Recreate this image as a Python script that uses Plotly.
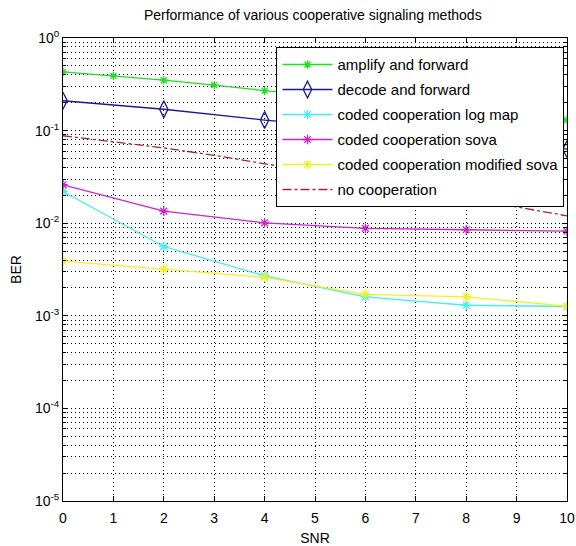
import plotly.graph_objects as go

snr_full = [0, 1, 2, 3, 4, 5, 6, 7, 8, 9, 10]
snr_even = [0, 2, 4, 6, 8, 10]

amplify_forward = [0.43, 0.39, 0.35, 0.31, 0.27, 0.24, 0.21, 0.185, 0.165, 0.145, 0.13]
decode_forward = [0.21, 0.17, 0.13, 0.105, 0.082, 0.063]
log_map = [0.022, 0.0056, 0.0027, 0.0016, 0.0013, 0.00126]
sova = [0.026, 0.0135, 0.0101, 0.0088, 0.0085, 0.0082]
modified_sova = [0.0039, 0.0032, 0.0026, 0.0017, 0.0016, 0.00127]
no_coop = [0.088, 0.076, 0.065, 0.054, 0.044, 0.036, 0.029, 0.023, 0.019, 0.015, 0.012]

y_exponents = [-5, -4, -3, -2, -1, 0]
y_tickvals = [10.0 ** e for e in y_exponents]
y_ticktext = ["10<sup>%d</sup>" % e for e in y_exponents]
y_minor_vals = [m * 10.0 ** e for e in y_exponents[:-1] for m in range(2, 10)]

series = [
    ("amplify and forward", snr_full, amplify_forward, "#22dd22", "solid", "asterisk-open", 7),
    ("decode and forward", snr_even, decode_forward, "#1a1a90", "solid", "diamond-tall-open", 12),
    ("coded cooperation log map", snr_even, log_map, "#44eeee", "solid", "asterisk-open", 8),
    ("coded cooperation sova", snr_even, sova, "#cc22cc", "solid", "asterisk-open", 8),
    ("coded cooperation modified sova", snr_even, modified_sova, "#f2f222", "solid", "asterisk-open", 8),
    ("no cooperation", snr_full, no_coop, "#a02828", "dashdot", None, 0),
]

fig = go.Figure()
for i, (name, xs, ys, color, dash, sym, size) in enumerate(series):
    if sym:
        fig.add_trace(go.Scatter(x=xs, y=ys, name=name, mode="lines+markers",
                                 legendgroup="g%d" % i,
                                 line=dict(color=color, width=1.3, dash=dash),
                                 marker=dict(symbol=sym, size=size, color=color,
                                             line=dict(color=color, width=1.3))))
    else:
        fig.add_trace(go.Scatter(x=xs, y=ys, name=name, mode="lines",
                                 legendgroup="g%d" % i,
                                 line=dict(color=color, width=1.3, dash=dash)))

grid_dash = "1px,3px"
fig.update_layout(
    width=576, height=546,
    margin=dict(l=63, r=9, t=38, b=45),
    paper_bgcolor="white", plot_bgcolor="white",
    font=dict(family="Liberation Sans, Arial", size=12, color="black"),
    title=dict(text="Performance of various cooperative signaling methods",
               x=0.543, xanchor="center", y=0.972, yanchor="middle",
               font=dict(size=14)),
    showlegend=True,
    legend=dict(x=0.995, y=0.98, xanchor="right", yanchor="top",
                bgcolor="white", bordercolor="black", borderwidth=1,
                font=dict(size=15), tracegroupgap=2.5, itemwidth=50),
)
fig.update_xaxes(
    range=[0, 10], dtick=1, showline=True, linecolor="black", linewidth=1,
    mirror="ticks", ticks="inside", ticklen=5, tickcolor="black",
    showgrid=True, gridcolor="black", griddash=grid_dash, gridwidth=1,
    zeroline=False, automargin=False, ticklabelstandoff=4,
    title=dict(text="SNR", standoff=8, font=dict(size=14)),
    tickfont=dict(size=14),
)
fig.update_yaxes(
    type="log", range=[-5, 0], tickvals=y_tickvals, ticktext=y_ticktext,
    showline=True, linecolor="black", linewidth=1, mirror="ticks",
    ticks="inside", ticklen=5, tickcolor="black",
    showgrid=True, gridcolor="black", griddash=grid_dash, gridwidth=1,
    minor=dict(tickvals=y_minor_vals, showgrid=True, gridcolor="black",
               griddash=grid_dash, gridwidth=1,
               ticks="inside", ticklen=3, tickcolor="black"),
    zeroline=False, automargin=False,
    title=dict(text="BER", standoff=10, font=dict(size=14)),
    tickfont=dict(size=14),
)
fig.write_html("out.html", config={"displayModeBar": False},
               post_script="document.body.style.margin='0';")
